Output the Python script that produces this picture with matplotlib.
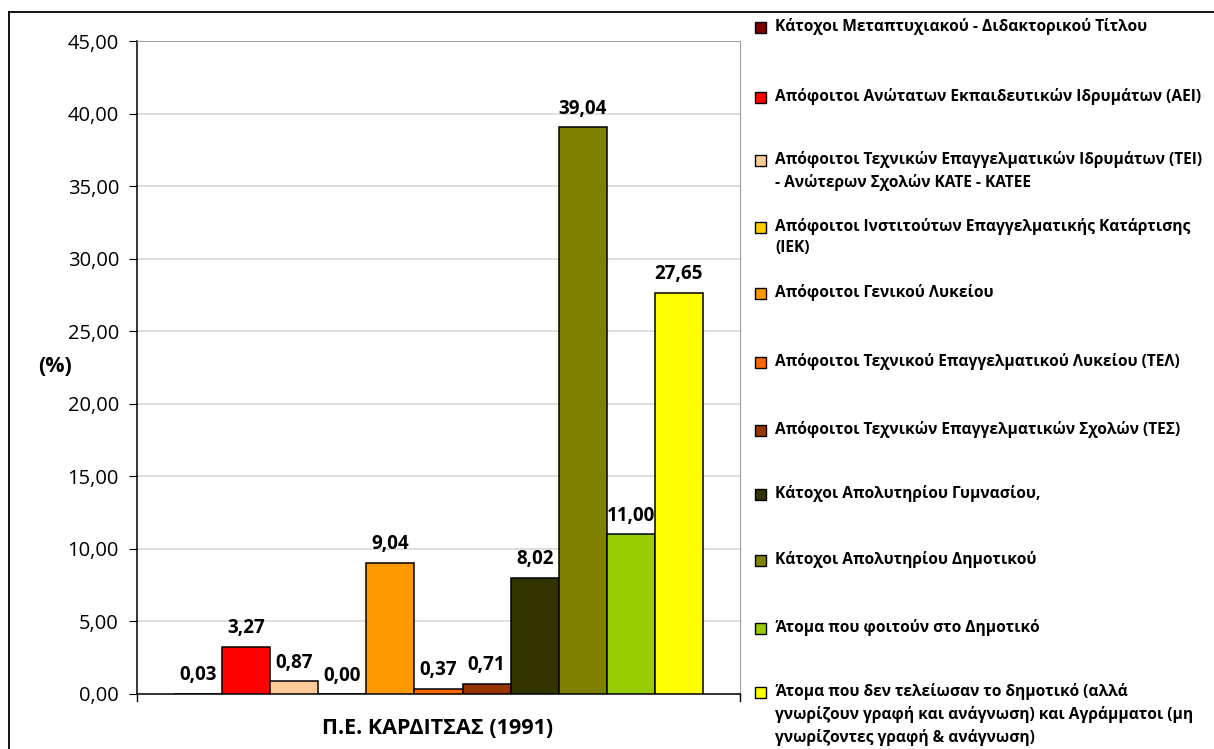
import numpy as np
import matplotlib.pyplot as plt
from matplotlib.patches import Rectangle
from matplotlib.ticker import FuncFormatter

plt.rcParams['font.family'] = ['Open Sans', 'DejaVu Sans']

categories = [
    'Κάτοχοι Μεταπτυχιακού - Διδακτορικού Τίτλου',
    'Απόφοιτοι Ανώτατων Εκπαιδευτικών Ιδρυμάτων (ΑΕΙ)',
    'Απόφοιτοι Τεχνικών Επαγγελματικών Ιδρυμάτων (ΤΕΙ)\n- Ανώτερων Σχολών ΚΑΤΕ - ΚΑΤΕΕ',
    'Απόφοιτοι Ινστιτούτων Επαγγελματικής Κατάρτισης\n(ΙΕΚ)',
    'Απόφοιτοι Γενικού Λυκείου',
    'Απόφοιτοι Τεχνικού Επαγγελματικού Λυκείου (ΤΕΛ)',
    'Απόφοιτοι Τεχνικών Επαγγελματικών Σχολών (ΤΕΣ)',
    'Κάτοχοι Απολυτηρίου Γυμνασίου,',
    'Κάτοχοι Απολυτηρίου Δημοτικού',
    'Άτομα που φοιτούν στο Δημοτικό',
    'Άτομα που δεν τελείωσαν το δημοτικό (αλλά\nγνωρίζουν γραφή και ανάγνωση) και Αγράμματοι (μη\nγνωρίζοντες γραφή & ανάγνωση)',
]
values = [0.03, 3.27, 0.87, 0.00, 9.04, 0.37, 0.71, 8.02, 39.04, 11.00, 27.65]
colors = ['#800000', '#FF0000', '#FFCC99', '#FFCC00', '#FF9900', '#FF6600',
          '#993300', '#333300', '#808000', '#99CC00', '#FFFF00']
group_label = 'Π.Ε. ΚΑΡΔΙΤΣΑΣ (1991)'

W, H = 1214, 749
fig = plt.figure(figsize=(W / 100, H / 100), dpi=100)
ax = fig.add_axes([137 / W, 1 - 694 / H, 603 / W, 653 / H])

# outer chart frame (left and top edges visible)
fy = 1 - 12 / H
fx = 9 / W
fig.lines.append(plt.Line2D([fx, fx], [0, fy], transform=fig.transFigure, color='black', linewidth=1.3))
fig.lines.append(plt.Line2D([fx, 1], [fy, fy], transform=fig.transFigure, color='black', linewidth=1.3))

n = len(values)
x = np.arange(n)
ax.bar(x, values, width=1.0, align='edge', color=colors, edgecolor='black', linewidth=1.1, zorder=3)
ax.set_xlim(-0.77, n + 0.77)
ax.set_ylim(0, 45)
ax.set_yticks(np.arange(0, 46, 5))
ax.yaxis.set_major_formatter(FuncFormatter(lambda v, p: f'{v:.2f}'.replace('.', ',')))
ax.grid(axis='y', color='#d9d9d9', linewidth=1.2, zorder=0)
ax.tick_params(axis='y', labelsize=14.5, length=6, direction='out', color='black', pad=7)
ax.set_xticks([])
for s in ['top', 'right']:
    ax.spines[s].set_color('#a0a0a0')
for s in ['left', 'bottom']:
    ax.spines[s].set_color('black')
    ax.spines[s].set_linewidth(1.1)

for xi, v in zip(x, values):
    ax.annotate(f'{v:.2f}'.replace('.', ','), (xi + 0.5, v), xytext=(0, 6),
                textcoords='offset points', ha='center', va='bottom',
                fontsize=13.5, fontweight='bold')

fig.text(438 / W, 1 - 728 / H, group_label, ha='center', va='center', fontsize=15.5, fontweight='bold')
fig.text(55 / W, 1 - 366 / H, '(%)', ha='center', va='center', fontsize=15.5, fontweight='bold')

# bottom tick marks at category boundaries
for xb in [137, 740]:
    fig.lines.append(plt.Line2D([xb / W, xb / W], [1 - 694 / H, 1 - 701 / H],
                                transform=fig.transFigure, color='black', linewidth=1))

# legend drawn by hand, marker aligned to first text line
leg_y = [27, 97, 160, 227, 293, 362, 430, 494, 560, 628, 692]
for lab, c, yy in zip(categories, colors, leg_y):
    fig.patches.append(Rectangle((755 / W, 1 - (yy + 6) / H), 11 / W, 11 / H,
                                 transform=fig.transFigure, facecolor=c,
                                 edgecolor='black', linewidth=1))
    fig.text(775 / W, 1 - (yy - 9) / H, lab, ha='left', va='top', fontsize=11.2,
             fontweight='bold', linespacing=1.45)

fig.savefig('out.png', dpi=100)
